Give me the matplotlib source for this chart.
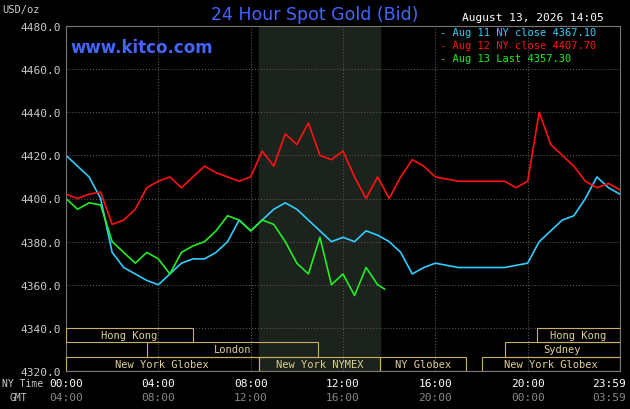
import matplotlib
matplotlib.use("Agg")
import matplotlib.pyplot as plt
from matplotlib.patches import Rectangle

blue_h = [0,0.5,1,1.5,2,2.5,3,3.5,4,4.5,5,5.5,6,6.5,7,7.5,8,8.5,9,9.5,10,10.5,11,11.5,12,12.5,13,13.5,14,14.5,15,15.5,16,17,18,19,20,20.5,21,21.5,22,22.5,23,23.5,24]
blue_v = [4420,4415,4410,4400,4375,4368,4365,4362,4360,4365,4370,4372,4372,4375,4380,4390,4385,4390,4395,4398,4395,4390,4385,4380,4382,4380,4385,4383,4380,4375,4365,4368,4370,4368,4368,4368,4370,4380,4385,4390,4392,4400,4410,4405,4402]
red_h = [0,0.5,1,1.5,2,2.5,3,3.5,4,4.5,5,5.5,6,6.5,7,7.5,8,8.5,9,9.5,10,10.5,11,11.5,12,12.5,13,13.5,14,14.5,15,15.5,16,17,18,19,19.5,20,20.5,21,21.5,22,22.5,23,23.5,24]
red_v = [4402,4400,4402,4403,4388,4390,4395,4405,4408,4410,4405,4410,4415,4412,4410,4408,4410,4422,4415,4430,4425,4435,4420,4418,4422,4410,4400,4410,4400,4410,4418,4415,4410,4408,4408,4408,4405,4408,4440,4425,4420,4415,4408,4405,4407,4404]
green_h = [0,0.5,1,1.5,2,2.5,3,3.5,4,4.5,5,5.5,6,6.5,7,7.5,8,8.5,9,9.5,10,10.5,11,11.5,12,12.5,13,13.5,13.8]
green_v = [4400,4395,4398,4397,4380,4375,4370,4375,4372,4365,4375,4378,4380,4385,4392,4390,4385,4390,4388,4380,4370,4365,4382,4360,4365,4355,4368,4360,4358]
yticks = [4320,4340,4360,4380,4400,4420,4440,4460,4480]
ny_labels = ["00:00","04:00","08:00","12:00","16:00","20:00","23:59"]
gmt_labels = ["04:00","08:00","12:00","16:00","20:00","00:00","03:59"]
tick_h = [0,4,8,12,16,20,24]

fig = plt.figure(figsize=(6.3,4.1), dpi=100, facecolor="black")
ax = fig.add_axes([66/630, 38/410, 554/630, 345/410], facecolor="black")
ax.set_xlim(0,24); ax.set_ylim(4320,4480)
ax.axvspan(8.35,13.6,color="#1c221c",zorder=0)
ax.set_yticks(yticks); ax.set_xticks(tick_h)
ax.grid(True,color="#555555",linestyle=":",linewidth=0.8)
ax.set_yticklabels([f"{v:.1f}" for v in yticks],color="#cccccc",family="DejaVu Sans Mono",fontsize=8)
ax.set_xticklabels([])
ax.tick_params(length=0)
for s in ax.spines.values(): s.set_color("#777777")
ax.plot(blue_h,blue_v,color="#33ccff",lw=1.2)
ax.plot(red_h,red_v,color="#ff1111",lw=1.2)
ax.plot(green_h,green_v,color="#22ee22",lw=1.2)

sess = [(0,5.5,0,"Hong Kong"),(20.4,24,0,"Hong Kong"),(3.5,10.9,1,"London"),(19.0,24,1,"Sydney"),
        (0,8.35,2,"New York Globex"),(8.35,13.6,2,"New York NYMEX"),(13.6,17.35,2,"NY Globex"),(18,24,2,"New York Globex")]
rh = 20/3
for a,b,r,t in sess:
    y0 = 4340 - (r+1)*rh
    ax.add_patch(Rectangle((a,y0),b-a,rh,fill=False,edgecolor="#c8b060",lw=0.8,zorder=3))
    ax.text((a+b)/2,y0+rh/2,t,color="#e0d090",fontsize=7.5,ha="center",va="center",family="DejaVu Sans Mono",zorder=4)

fig.text(0.5,395/410,"24 Hour Spot Gold (Bid)",color="#4466ff",fontsize=12.5,ha="center",va="center")
fig.text(70/630,362/410,"www.kitco.com",color="#4466ff",fontsize=12,fontweight="bold",va="center")
fig.text(2/630,400/410,"USD/oz",color="#cccccc",fontsize=7.5,family="DejaVu Sans Mono",va="center")
fig.text(462/630,392/410,"August 13, 2026 14:05",color="white",fontsize=8,family="DejaVu Sans Mono",va="center")
for i,(t,c) in enumerate([("Aug 11 NY close 4367.10","#33ccff"),("Aug 12 NY close 4407.70","#ff1111"),("Aug 13 Last 4357.30","#22ee22")]):
    fig.text(440/630,(377-i*13)/410,"- "+t,color=c,fontsize=7.5,family="DejaVu Sans Mono",va="center")
fig.text(2/630,26/410,"NY Time",color="#cccccc",fontsize=7,family="DejaVu Sans Mono",va="center")
fig.text(10/630,12/410,"GMT",color="#cccccc",fontsize=7,family="DejaVu Sans Mono",va="center")
for h,n,g in zip(tick_h,ny_labels,gmt_labels):
    x = (66+h*(554/24))/630
    ha = "center"
    if h == 24:
        x = 626/630; ha = "right"
    fig.text(x,26/410,n,color="white",fontsize=8,family="DejaVu Sans Mono",ha=ha,va="center")
    fig.text(x,12/410,g,color="#888888",fontsize=8,family="DejaVu Sans Mono",ha=ha,va="center")
fig.savefig("out.png",dpi=100,facecolor="black")
